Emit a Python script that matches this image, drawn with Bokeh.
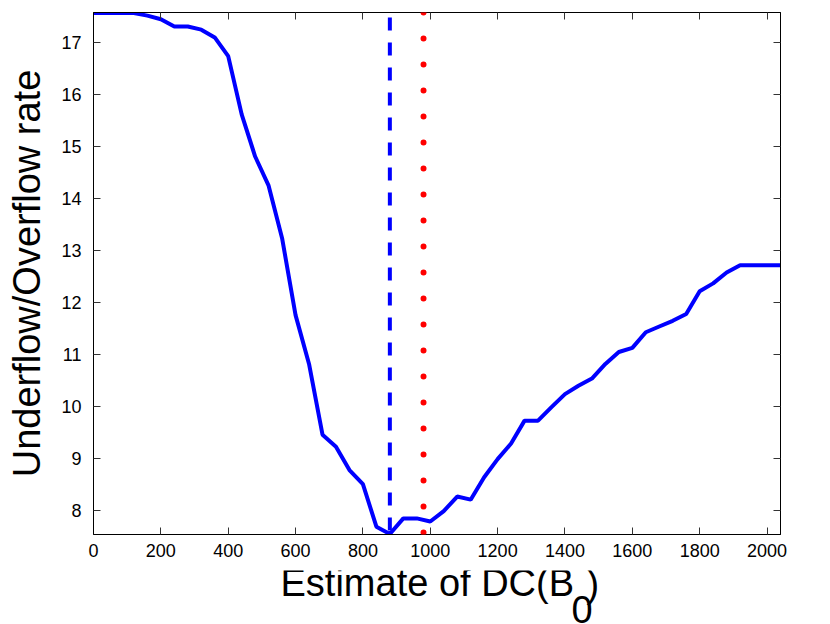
from bokeh.plotting import figure
from bokeh.layouts import column
from bokeh.models import Range1d, LinearAxis, Span, Label, FixedTicker
from bokeh.embed import file_html
from bokeh.resources import INLINE

# ---- data ----
dc_estimate = [0, 40, 80, 120, 160, 200, 240, 280, 320, 360, 400, 440, 480, 520,
               560, 600, 640, 680, 720, 760, 800, 840, 880, 920, 960, 1000, 1040,
               1080, 1120, 1160, 1200, 1240, 1280, 1320, 1360, 1400, 1440, 1480,
               1520, 1560, 1600, 1640, 1680, 1720, 1760, 1800, 1840, 1880, 1920,
               1960, 2000, 2040]
rate = [17.57, 17.57, 17.57, 17.57, 17.52, 17.45, 17.31, 17.31, 17.25, 17.10,
        16.74, 15.62, 14.81, 14.25, 13.24, 11.76, 10.82, 9.46, 9.23, 8.78, 8.51,
        7.69, 7.55, 7.85, 7.85, 7.79, 7.99, 8.27, 8.21, 8.64, 8.99, 9.29, 9.73,
        9.73, 9.99, 10.24, 10.40, 10.54, 10.82, 11.05, 11.13, 11.43, 11.54, 11.65,
        11.78, 12.22, 12.37, 12.58, 12.72, 12.72, 12.72, 12.72]
best_estimate = 880      # dashed blue vertical line
true_dc = 980            # dotted red vertical line
x_ticks = [0, 200, 400, 600, 800, 1000, 1200, 1400, 1600, 1800, 2000]
y_ticks = [8, 9, 10, 11, 12, 13, 14, 15, 16, 17]
x_lo, x_hi = 0, 2040
y_lo, y_hi = 7.54, 17.58
x_title, x_sub, x_close = "Estimate of DC(B", "0", ")"
y_title = "Underflow/Overflow rate"

FONT = "Liberation Sans"

p = figure(width=830, height=570, output_backend="svg", toolbar_location=None,
           x_range=Range1d(x_lo, x_hi), y_range=Range1d(y_lo, y_hi),
           min_border_left=93, min_border_right=50, min_border_top=12,
           min_border_bottom=36, x_axis_location=None, y_axis_location=None)
p.grid.visible = False
p.outline_line_color = "black"
p.outline_line_width = 1
p.background_fill_color = "white"
p.border_fill_color = "white"


def style_axis(ax, ticks, labels=True):
    ax.ticker = FixedTicker(ticks=ticks)
    ax.major_tick_in = 7
    ax.major_tick_out = 0
    ax.minor_tick_line_color = None
    ax.major_tick_line_color = "#333333"
    ax.axis_line_color = "black"
    ax.axis_line_width = 1
    if labels:
        ax.major_label_text_font = FONT
        ax.major_label_text_font_size = "18px"
        ax.major_label_text_color = "black"
    else:
        ax.major_label_text_color = None
        ax.major_label_text_font_size = "1px"
        ax.major_label_standoff = 0


xb = LinearAxis()
style_axis(xb, x_ticks)
xb.major_label_standoff = 9
p.add_layout(xb, "below")

yl = LinearAxis(axis_label=y_title)
style_axis(yl, y_ticks)
yl.major_label_standoff = 12
yl.axis_label_text_font = FONT
yl.axis_label_text_font_size = "38px"
yl.axis_label_text_font_style = "normal"
yl.axis_label_text_color = "black"
yl.axis_label_standoff = 10
p.add_layout(yl, "left")

xt = LinearAxis()
style_axis(xt, x_ticks, labels=False)
p.add_layout(xt, "above")

yr = LinearAxis()
style_axis(yr, y_ticks, labels=False)
p.add_layout(yr, "right")

# main curve
p.line(dc_estimate, rate, line_color="#0000ff", line_width=4)

# vertical markers
p.add_layout(Span(location=best_estimate, dimension="height", line_color="#0000ff",
                  line_width=4, line_dash="13 12", line_dash_offset=20))
p.add_layout(Span(location=true_dc, dimension="height", line_color="#ff0000",
                  line_width=6, line_dash="0 26", line_cap="round"))

# ---- x axis title strip (separate canvas so the subscript can sit low) ----
t = figure(width=830, height=54, output_backend="svg", toolbar_location=None,
           x_range=Range1d(0, 830), y_range=Range1d(0, 54),
           min_border=0, x_axis_location=None, y_axis_location=None)
t.grid.visible = False
t.outline_line_color = None
t.border_fill_color = "white"
t.background_fill_color = "white"

lab_kw = dict(x_units="screen", y_units="screen", text_font=FONT,
              text_font_size="38px", text_color="black", text_baseline="alphabetic",
              text_align="left")
t.add_layout(Label(text=x_title, x=187, y=42, **lab_kw))
t.add_layout(Label(text=x_sub, x=478, y=15, **lab_kw))
t.add_layout(Label(text=x_close, x=493, y=41, **lab_kw))

open("out.html", "w").write(file_html(column(p, t, spacing=0), INLINE))
